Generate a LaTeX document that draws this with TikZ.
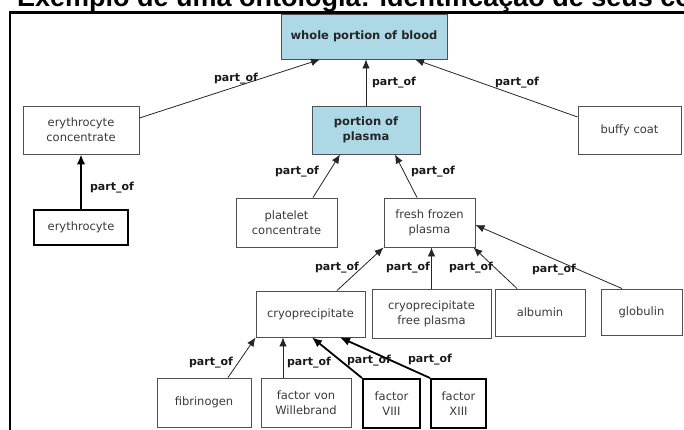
\documentclass[tikz,border=0pt]{standalone}
\usepackage{fontspec}
\setmainfont{DejaVu Sans}
\newfontfamily\titlefont{Liberation Sans}
\usetikzlibrary{arrows.meta,calc}
\definecolor{boxgray}{HTML}{505050}
\definecolor{txtgray}{HTML}{3A3A3A}
\definecolor{plasmablue}{HTML}{ADD8E6}
\begin{document}
\begin{tikzpicture}[x=1pt,y=-1pt,
 box/.style={draw=boxgray, line width=0.9pt, fill=white, inner sep=0pt, align=center, text=txtgray, font=\fontsize{11.5}{15}\selectfont},
 thickbox/.style={box, draw=black, line width=2pt},
 bluebox/.style={box, fill=plasmablue, font=\fontsize{11.5}{15}\selectfont\bfseries, text=black!85},
 lbl/.style={font=\fontsize{11}{13}\selectfont\bfseries, inner sep=0pt, text=black!90},
 rel/.style={draw=black!85, line width=0.8pt, -{Latex[length=9pt,width=7.5pt]}},
 thickrel/.style={draw=black, line width=1.8pt, -{Latex[length=10pt,width=8.5pt]}},
]
\useasboundingbox (0,0) rectangle (684,430);
\fill[white] (0,0) rectangle (684,430);

% title (cut by the top edge)
\node[anchor=base west, inner sep=0pt, font=\titlefont\bfseries\fontsize{27}{27}\selectfont] (title) at (17,7) {Exemplo de uma ontologia: identificação de seus con};
% frame
\draw[line width=2.5pt, line join=miter] (10,431) -- (10,12.5) -- (685,12.5);

% boxes
\node[bluebox, minimum width=166pt, minimum height=45pt] (whole) at (364,36.5) {whole portion of blood};
\node[box, minimum width=116pt, minimum height=48pt] (ec) at (81,130) {erythrocyte\\concentrate};
\node[bluebox, minimum width=108pt, minimum height=48pt] (pp) at (366,130) {portion of\\plasma};
\node[box, minimum width=103pt, minimum height=48pt] (bc) at (629.5,130) {buffy coat};
\node[thickbox, minimum width=94pt, minimum height=35pt] (ery) at (81,227.5) {erythrocyte};
\node[box, minimum width=101pt, minimum height=49pt] (plc) at (286.5,222.5) {platelet\\concentrate};
\node[box, minimum width=91pt, minimum height=49pt] (ffp) at (429.5,222.5) {fresh frozen\\plasma};
\node[box, minimum width=109pt, minimum height=46pt] (cryo) at (310.5,314) {cryoprecipitate};
\node[box, minimum width=119pt, minimum height=49pt] (cfp) at (431.5,313.5) {cryoprecipitate\\free plasma};
\node[box, minimum width=90pt, minimum height=47pt] (alb) at (540,312.5) {albumin};
\node[box, minimum width=81pt, minimum height=46pt] (glob) at (641.5,312) {globulin};
\node[box, minimum width=94pt, minimum height=49pt] (fib) at (204,402.5) {fibrinogen};
\node[box, minimum width=90pt, minimum height=49pt] (fvw) at (306,402.5) {factor von\\Willebrand};
\node[thickbox, minimum width=57pt, minimum height=49pt] (f8) at (391.5,403.5) {factor\\VIII};
\node[thickbox, minimum width=55pt, minimum height=49pt] (f13) at (458.5,403.5) {factor\\XIII};

% connectors
\draw[rel] ($(ec.east)+(0,-12)$) -- ($(whole.south)+(-44,0)$);
\draw[rel] (pp.north) -- (pp.north |- whole.south);
\draw[rel] ($(bc.west)+(0,-13)$) -- ($(whole.south)+(51,0)$);
\draw[rel] ($(plc.north)+(26.5,0)$) -- ($(pp.south)+(-26,0)$);
\draw[rel] ($(ffp.north)+(-12.5,0)$) -- ($(pp.south)+(29,0)$);
\draw[rel] ($(cryo.north)+(26.5,0)$) -- (ffp.south west);
\draw[rel] (cfp.north) -- (cfp.north |- ffp.south);
\draw[rel] ($(alb.north)+(-23,0)$) -- ($(ffp.south east)+(-2,0)$);
\draw[rel] ($(glob.north)+(-19.5,0)$) -- ($(ffp.east)+(0,2.5)$);
\draw[thickrel] (ery.north) -- (ec.south);
\draw[rel] ($(fib.north)+(24,0)$) -- (cryo.south west);
\draw[rel] ($(fvw.north)+(-23,0)$) -- ($(cryo.south)+(-27.5,0)$);
\draw[thickrel] (f8.north west) -- ($(cryo.south)+(1.5,0)$);
\draw[thickrel] (f13.north west) -- ($(cryo.south)+(29.5,0)$);

% labels
\node[lbl] (l1) at (236,79) {part\_of};
\node[lbl] (l2) at (394,83) {part\_of};
\node[lbl] (l3) at (517,83) {part\_of};
\node[lbl] (l4) at (297,172) {part\_of};
\node[lbl] (l5) at (433,172) {part\_of};
\node[lbl] (l6) at (337,268) {part\_of};
\node[lbl] (l7) at (408,268) {part\_of};
\node[lbl] (l8) at (471,268) {part\_of};
\node[lbl] (l9) at (554,270) {part\_of};
\node[lbl] (l10) at (112,188) {part\_of};
\node[lbl] (l11) at (211,363) {part\_of};
\node[lbl] (l12) at (309,363) {part\_of};
\node[lbl] (l13) at (369,361) {part\_of};
\node[lbl] (l14) at (430,360) {part\_of};
\end{tikzpicture}
\end{document}
